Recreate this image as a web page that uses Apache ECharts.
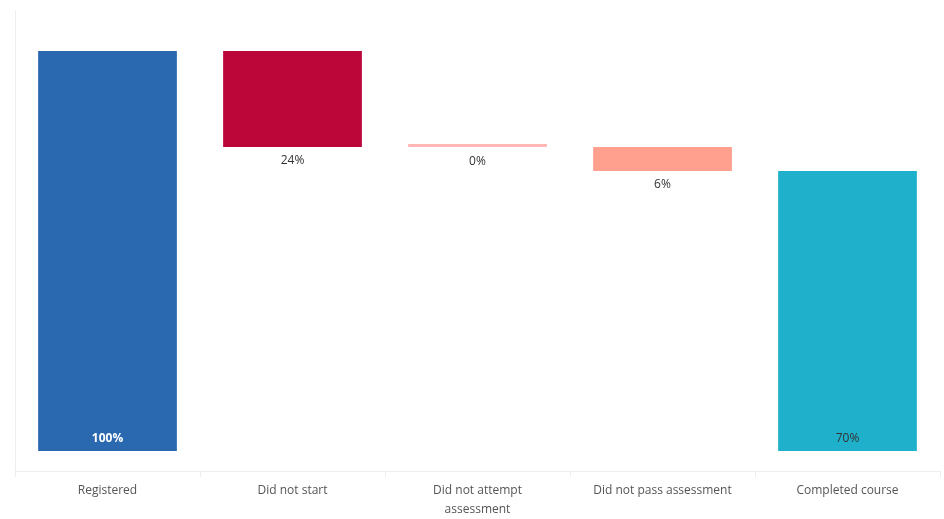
<!DOCTYPE html>
<html><head><meta charset="utf-8">
<script src="https://cdn.jsdelivr.net/npm/echarts@6/dist/echarts.min.js"></script>
<style>html,body{margin:0;padding:0;background:#fff}#c{width:944px;height:519px}</style>
</head><body><div id="c"></div>
<script>
const categories = ['Registered', 'Did not start', 'Did not attempt\nassessment', 'Did not pass assessment', 'Completed course'];
const values = [100, 24, 0, 6, 70];
const kinds = ['total', 'drop', 'drop', 'drop', 'total'];
const colors = ['#2a69b0', '#bc0538', '#ffb7b5', '#ffa08e', '#1fb1cb'];

const bases = [];
let running = 0;
values.forEach((v, i) => {
  if (kinds[i] === 'total') { bases.push(0); running = v; }
  else { running -= v; bases.push(running); }
});

const labelCfg = (i) => {
  if (i === 0) return {show: true, position: 'insideBottom', distance: 6, color: '#fff', fontWeight: 'bold', fontSize: 12, formatter: values[i] + '%'};
  if (kinds[i] === 'total') return {show: true, position: 'insideBottom', distance: 6, color: '#333', fontSize: 12, formatter: values[i] + '%'};
  return {show: true, position: 'bottom', distance: values[i] === 0 ? 9 : 8, color: '#333', fontSize: 12, formatter: values[i] + '%'};
};

const chart = echarts.init(document.getElementById('c'));
chart.setOption({
  animation: false,
  textStyle: {fontFamily: 'Open Sans'},
  grid: {left: 15, right: 4, top: 11, bottom: 48, outerBoundsMode: 'none', containLabel: false},
  xAxis: {
    type: 'category', data: categories,
    axisLine: {onZero: false, lineStyle: {color: '#eeeeee'}},
    axisTick: {show: true, length: 6, lineStyle: {color: '#eeeeee'}},
    axisLabel: {color: '#555', fontSize: 12, margin: 10, lineHeight: 19}
  },
  yAxis: {
    type: 'value', min: -5, max: 110,
    axisLine: {show: true, lineStyle: {color: '#eeeeee'}},
    axisLabel: {show: false}, axisTick: {show: false}, splitLine: {show: false}
  },
  series: [
    {type: 'bar', stack: 'w', barWidth: '75%', silent: true,
     itemStyle: {color: 'transparent'}, data: bases},
    {type: 'bar', stack: 'w', barWidth: '75%', barMinHeight: 3,
     data: values.map((v, i) => ({value: v, itemStyle: {color: colors[i]}, label: labelCfg(i)}))}
  ]
});
</script></body></html>
